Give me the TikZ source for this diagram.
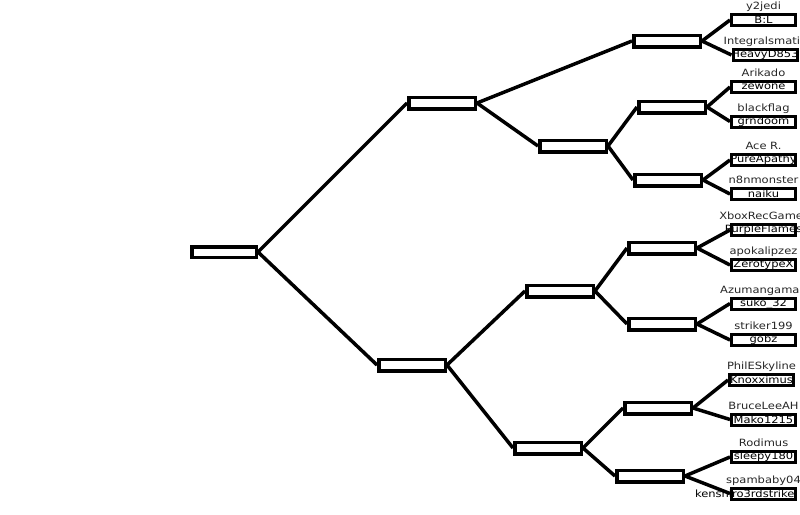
\documentclass[tikz,border=0pt]{standalone}
\usepackage{fontspec}
\setmainfont[FakeStretch=1.15]{DejaVu Sans}
\usetikzlibrary{positioning}

\begin{document}
\begin{tikzpicture}[
    x=1pt, y=-1pt,
    font=\fontsize{10}{12}\selectfont,
    slot/.style={draw=black, line width=3.5pt, minimum width=66.5pt,
                 minimum height=11.5pt, inner sep=0pt, fill=white},
    player/.style={draw=black, line width=3pt, minimum width=64pt,
                   minimum height=11pt, inner sep=0pt, text=black},
    nick/.style={text=black!85, inner sep=0pt, text depth=2.3pt},
    link/.style={line width=3.5pt}
]
\useasboundingbox (0,0) rectangle (800,514);
\clip (0,0) rectangle (800,514);
% empty bracket slots
\node[slot, minimum width=64.5pt, minimum height=10.5pt] (final) at (224,252) {};
\node[slot] (semitop) at (442,103) {};
\node[slot] (semibot) at (412,365) {};
\node[slot] (quartA) at (667,41) {};
\node[slot] (quartB) at (573,146) {};
\node[slot] (quartC) at (560,291) {};
\node[slot] (quartD) at (548,448) {};
\node[slot] (roundB1) at (672,107) {};
\node[slot] (roundB2) at (668,180) {};
\node[slot] (roundC1) at (662,248) {};
\node[slot] (roundC2) at (662,324) {};
\node[slot] (roundD1) at (658,408) {};
\node[slot] (roundD2) at (650,476) {};
% players
\node[player] (bl) at (763.5,20) {\makebox[0pt]{B:L}};
\node[player] (heavyd) at (765,55) {\makebox[0pt]{HeavyD853}};
\node[player] (zewone) at (763.5,87) {\makebox[0pt]{zewone}};
\node[player] (grndoom) at (763.5,121.5) {\makebox[0pt]{grndoom}};
\node[player] (pureapathy) at (763.5,160) {\makebox[0pt]{PureApathy}};
\node[player] (naiku) at (763.5,194) {\makebox[0pt]{naiku}};
\node[player] (purpleflames) at (763.5,230) {\makebox[0pt]{PurpleFlames}};
\node[player] (zerotypex) at (763.5,265) {\makebox[0pt]{ZerotypeX}};
\node[player] (suko) at (763.5,303.5) {\makebox[0pt]{suko\_32}};
\node[player] (gobz) at (763.5,340) {\makebox[0pt]{gobz}};
\node[player] (knoxximus) at (761.5,380) {\makebox[0pt]{Knoxximus}};
\node[player] (mako) at (763.5,419.5) {\makebox[0pt]{Mako1215}};
\node[player] (sleepy) at (763.5,457) {\makebox[0pt]{sleepy180}};
\node[player] (kenshiro) at (763.5,493.5) {\makebox[62pt][r]{kenshiro3rdstrike}};
% nicknames over the boxes
\node[nick, above=1pt of bl] (y2jedi) {y2jedi};
\node[nick, above=1pt of heavyd] (integralsmatic) {Integralsmatic};
\node[nick, above=1pt of zewone] (arikado) {Arikado};
\node[nick, above=1pt of grndoom] (blackflag) {blackflag};
\node[nick, above=1pt of pureapathy] (acer) {Ace R.};
\node[nick, above=1pt of naiku] (n8nmonster) {n8nmonster};
\node[nick, above=1pt of purpleflames] (xboxrecgamer) {XboxRecGamer};
\node[nick, above=1pt of zerotypex] (apokalipzez) {apokalipzez};
\node[nick, above=1pt of suko] (azumangaman) {Azumangaman};
\node[nick, above=1pt of gobz] (striker) {striker199};
\node[nick, above=1pt of knoxximus] (philes) {PhilESkyline};
\node[nick, above=1pt of mako] (brucelee) {BruceLeeAH};
\node[nick, above=1pt of sleepy] (rodimus) {Rodimus};
\node[nick, above=1pt of kenshiro] (spambaby) {spambaby04};
% bracket lines
\draw[link] (final.east) -- (semitop.west);
\draw[link] (final.east) -- (semibot.west);
\draw[link] (semitop.east) -- (quartA.west);
\draw[link] (semitop.east) -- (quartB.west);
\draw[link] (semibot.east) -- (quartC.west);
\draw[link] (semibot.east) -- (quartD.west);
\draw[link] (quartA.east) -- (bl.west);
\draw[link] (quartA.east) -- (heavyd.west);
\draw[link] (quartB.east) -- (roundB1.west);
\draw[link] (quartB.east) -- (roundB2.west);
\draw[link] (quartC.east) -- (roundC1.west);
\draw[link] (quartC.east) -- (roundC2.west);
\draw[link] (quartD.east) -- (roundD1.west);
\draw[link] (quartD.east) -- (roundD2.west);
\draw[link] (roundB1.east) -- (zewone.west);
\draw[link] (roundB1.east) -- (grndoom.west);
\draw[link] (roundB2.east) -- (pureapathy.west);
\draw[link] (roundB2.east) -- (naiku.west);
\draw[link] (roundC1.east) -- (purpleflames.west);
\draw[link] (roundC1.east) -- (zerotypex.west);
\draw[link] (roundC2.east) -- (suko.west);
\draw[link] (roundC2.east) -- (gobz.west);
\draw[link] (roundD1.east) -- (knoxximus.west);
\draw[link] (roundD1.east) -- (mako.west);
\draw[link] (roundD2.east) -- (sleepy.west);
\draw[link] (roundD2.east) -- (kenshiro.west);
\end{tikzpicture}
\end{document}
